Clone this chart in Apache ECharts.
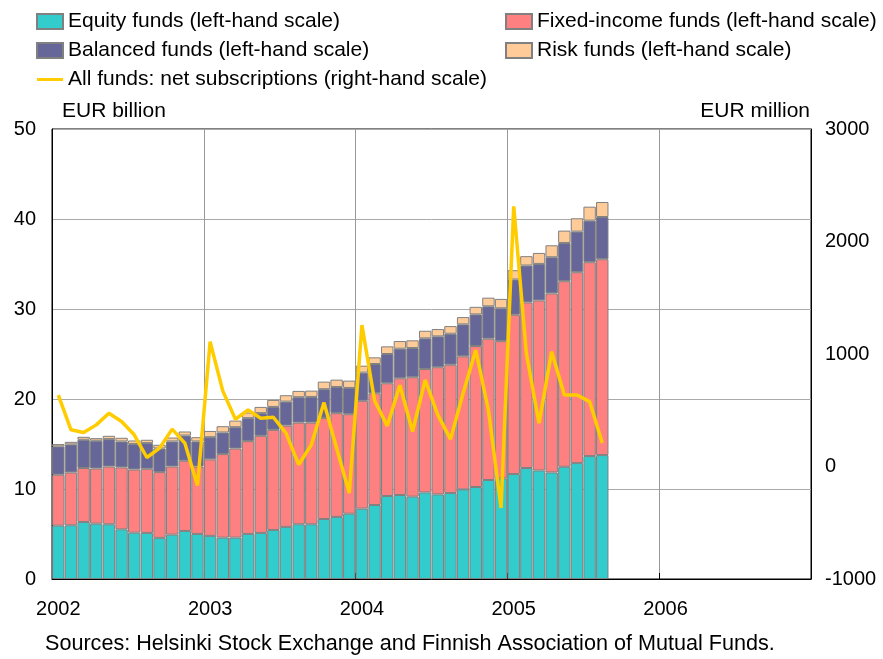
<!DOCTYPE html>
<html>
<head>
<meta charset="utf-8">
<script src="https://cdn.jsdelivr.net/npm/echarts@6/dist/echarts.min.js"></script>
<style>
html,body{margin:0;padding:0;background:#fff;}
#chart{width:883px;height:659px;}
</style>
</head>
<body>
<div id="chart"></div>
<script>
// Year labels on the x axis (each year = 12 monthly categories)
var years = ['2002', '2003', '2004', '2005', '2006'];

// Equity funds, EUR billion (Jan 2002 - Aug 2005)
var equity = [5.93, 5.97, 6.34, 6.15, 6.08, 5.52, 5.15, 5.12, 4.57, 4.93, 5.34, 5.01,
  4.79, 4.60, 4.60, 5.01, 5.12, 5.45, 5.79, 6.08, 6.08, 6.67, 6.90, 7.26,
  7.82, 8.22, 9.22, 9.33, 9.15, 9.62, 9.40, 9.55, 9.96, 10.22, 11.00, 11.18,
  11.66, 12.33, 12.06, 11.84, 12.47, 12.88, 13.66, 13.77];

// Fixed-income funds, EUR billion
var fixedIncome = [5.66, 5.87, 5.99, 6.13, 6.42, 6.88, 7.02, 7.13, 7.31, 7.57, 7.80, 7.49,
  8.50, 9.28, 9.90, 10.31, 10.79, 11.12, 11.26, 11.30, 11.30, 11.23, 11.53, 11.05,
  11.98, 12.42, 12.53, 12.97, 13.27, 13.72, 14.13, 14.26, 14.78, 15.67, 15.70, 15.25,
  17.70, 18.40, 18.89, 19.89, 20.62, 21.21, 21.54, 21.76];

// Balanced funds, EUR billion
var balanced = [3.14, 3.11, 3.14, 3.08, 3.04, 2.88, 2.82, 2.85, 2.62, 2.78, 2.80, 2.78,
  2.47, 2.40, 2.37, 2.55, 2.52, 2.55, 2.66, 2.82, 2.85, 3.19, 2.91, 2.92,
  3.13, 3.25, 3.25, 3.29, 3.24, 3.40, 3.43, 3.44, 3.55, 3.51, 3.60, 3.65,
  3.92, 4.10, 4.06, 4.02, 4.25, 4.51, 4.62, 4.69];

// Risk funds, EUR billion
var risk = [0.26, 0.29, 0.33, 0.29, 0.37, 0.41, 0.40, 0.37, 0.41, 0.44, 0.45, 0.48,
  0.69, 0.70, 0.73, 0.63, 0.69, 0.78, 0.71, 0.70, 0.70, 0.84, 0.81, 0.81,
  0.77, 0.74, 0.85, 0.85, 0.86, 0.84, 0.81, 0.85, 0.81, 0.84, 0.96, 1.04,
  1.03, 1.04, 1.22, 1.33, 1.37, 1.48, 1.55, 1.67];

// All funds: net subscriptions, EUR million
var netSubs = [634, 326, 302, 370, 474, 400, 282, 80, 163, 332, 208, -170,
  1109, 672, 420, 503, 429, 438, 296, 16, 193, 568, 163, -236,
  1257, 586, 361, 722, 311, 769, 459, 243, 651, 1035, 500, -369,
  2313, 1006, 385, 1021, 636, 636, 577, 208];

// Monthly categories 2002-01 .. 2006-12
var categories = [];
years.forEach(function (y) {
  for (var m = 1; m <= 12; m++) categories.push(y + '-' + (m < 10 ? '0' + m : m));
});

var FONT = 'Liberation Sans, Arial, sans-serif';
var chart = echarts.init(document.getElementById('chart'));
var barBorder = { borderColor: '#808080', borderWidth: 1 };
var lineIcon = 'path://M0,0 M26,15 M0,6 L26,6 L26,9 L0,9 Z';
var legendText = { fontSize: 21, fontFamily: FONT, color: '#000' };

chart.setOption({
  animation: false,
  textStyle: { fontFamily: FONT, color: '#000' },
  grid: { left: 52, right: 72, top: 129, bottom: 80, show: true, borderColor: '#000', borderWidth: 1, backgroundColor: 'transparent' },
  legend: [
    {
      left: 36, top: 11, padding: 0, orient: 'vertical', itemGap: 8, itemWidth: 26, itemHeight: 15,
      icon: 'rect', textStyle: legendText,
      data: [
        { name: 'Equity funds (left-hand scale)' },
        { name: 'Balanced funds (left-hand scale)' },
        { name: 'All funds: net subscriptions (right-hand scale)', icon: lineIcon, itemStyle: { color: '#FFCC00', borderWidth: 0 } }
      ]
    },
    {
      left: 505, top: 11, padding: 0, orient: 'vertical', itemGap: 8, itemWidth: 26, itemHeight: 15,
      icon: 'rect', textStyle: legendText,
      data: ['Fixed-income funds (left-hand scale)', 'Risk funds (left-hand scale)']
    }
  ],
  graphic: [
    { type: 'text', left: 62, top: 101, style: { text: 'EUR billion', font: '21px ' + FONT, fill: '#000' } },
    { type: 'text', right: 73, top: 101, style: { text: 'EUR million', font: '21px ' + FONT, fill: '#000' } },
    { type: 'text', left: 45, top: 633, style: { text: 'Sources: Helsinki Stock Exchange and Finnish Association of Mutual Funds.', font: '21.6px ' + FONT, fill: '#000' } }
  ],
  xAxis: {
    type: 'category',
    data: categories,
    boundaryGap: true,
    axisLine: { show: true, lineStyle: { color: '#000', width: 1 } },
    axisTick: { show: true, inside: true, interval: 11, length: 6, lineStyle: { color: '#000' } },
    axisLabel: {
      interval: 11, margin: 20, fontSize: 20, fontFamily: FONT, color: '#000',
      formatter: function (v) { return v.slice(0, 4); }
    },
    splitLine: { show: true, interval: 11, lineStyle: { color: '#999', width: 1 } }
  },
  yAxis: [
    {
      type: 'value', min: 0, max: 50, interval: 10, position: 'left',
      axisLine: { show: true, lineStyle: { color: '#000' } },
      axisTick: { show: false },
      axisLabel: { margin: 16, fontSize: 20, fontFamily: FONT, color: '#000' },
      splitLine: { show: true, lineStyle: { color: '#aaa', width: 1 } }
    },
    {
      type: 'value', min: -1000, max: 3000, interval: 1000, position: 'right',
      axisLine: { show: true, lineStyle: { color: '#000' } },
      axisTick: { show: false },
      axisLabel: { margin: 14, fontSize: 20, fontFamily: FONT, color: '#000', formatter: function (v) { return String(v); } },
      splitLine: { show: false }
    }
  ],
  series: [
    { name: 'Equity funds (left-hand scale)', type: 'bar', stack: 'funds', data: equity, barCategoryGap: '2%',
      itemStyle: Object.assign({ color: '#33CCCC' }, barBorder) },
    { name: 'Fixed-income funds (left-hand scale)', type: 'bar', stack: 'funds', data: fixedIncome,
      itemStyle: Object.assign({ color: '#FF8080' }, barBorder) },
    { name: 'Balanced funds (left-hand scale)', type: 'bar', stack: 'funds', data: balanced,
      itemStyle: Object.assign({ color: '#666699' }, barBorder) },
    { name: 'Risk funds (left-hand scale)', type: 'bar', stack: 'funds', data: risk,
      itemStyle: Object.assign({ color: '#FFCC99' }, barBorder) },
    { name: 'All funds: net subscriptions (right-hand scale)', type: 'line', yAxisIndex: 1, data: netSubs,
      symbol: 'none', z: 5,
      lineStyle: { color: '#FFCC00', width: 3.5 }, itemStyle: { color: '#FFCC00' } }
  ]
});
</script>
</body>
</html>
